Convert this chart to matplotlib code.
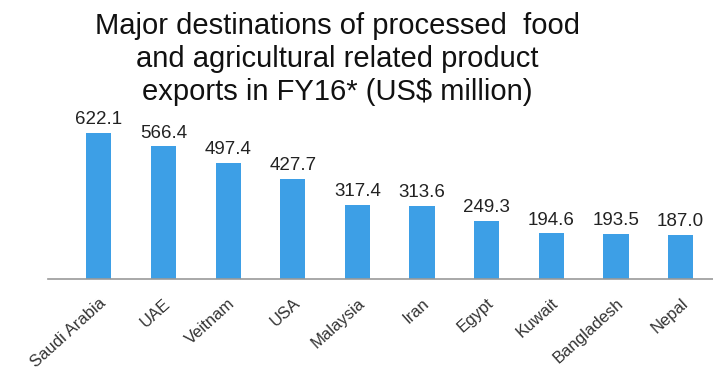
import matplotlib.pyplot as plt
import numpy as np

countries = ["Saudi Arabia", "UAE", "Veitnam", "USA", "Malaysia",
             "Iran", "Egypt", "Kuwait", "Bangladesh", "Nepal"]
values = [622.1, 566.4, 497.4, 427.7, 317.4, 313.6, 249.3, 194.6, 193.5, 187.0]

plt.rcParams['font.family'] = ['Liberation Sans', 'DejaVu Sans']

fig = plt.figure(figsize=(7.13, 3.75), dpi=100)
ax = fig.add_axes([0.067, 0.256, 0.933, 0.437])

x = np.arange(len(countries))
ax.bar(x, values, width=0.39, color="#3d9fe6")

# value labels above bars
for xi, v in zip(x, values):
    ax.text(xi, v + 38, "%.1f" % v, ha="center", va="baseline",
            fontsize=13.5, color="#222222")

ax.set_xlim(-0.79, 9.5)
ax.set_ylim(0, 700)
ax.set_xticks(x)
ax.set_xticklabels(countries, rotation=42, ha="right", va="top",
                   rotation_mode="anchor", fontsize=12, color="#333333")
ax.tick_params(axis="x", length=0, pad=12)
ax.set_yticks([])

for side in ["top", "right", "left"]:
    ax.spines[side].set_visible(False)
ax.spines["bottom"].set_color("#999999")
ax.spines["bottom"].set_linewidth(1.2)

fig.text(0.473, 0.968,
         "Major destinations of processed  food\nand agricultural related product\nexports in FY16* (US$ million)",
         ha="center", va="top", fontsize=21, linespacing=1.22, color="#111111")

fig.savefig("out.png", dpi=100, facecolor="white")
